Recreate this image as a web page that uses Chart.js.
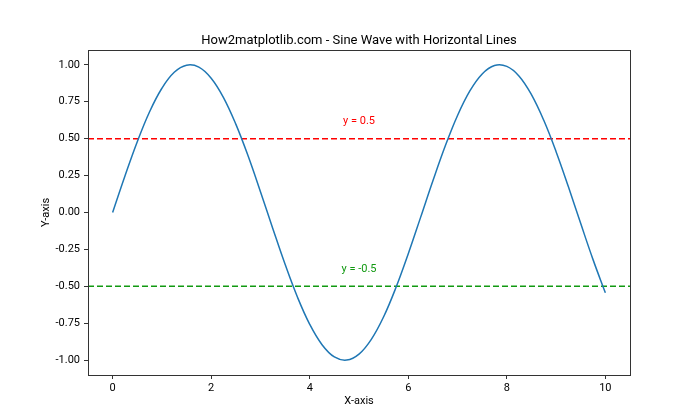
<!DOCTYPE html>
<html>
<head>
<meta charset="utf-8">
<script src="https://cdn.jsdelivr.net/npm/chart.js@4"></script>
<style>
  html, body { margin: 0; padding: 0; background: #fff; }
  #wrap { width: 700px; height: 420px; }
</style>
</head>
<body>
<div id="wrap"><canvas id="sineChart" width="700" height="420"></canvas></div>
<script>
// values
const xValues = [0, 0.25, 0.5, 0.75, 1, 1.25, 1.5, 1.75, 2, 2.25, 2.5, 2.75, 3, 3.25, 3.5, 3.75,
  4, 4.25, 4.5, 4.75, 5, 5.25, 5.5, 5.75, 6, 6.25, 6.5, 6.75, 7, 7.25, 7.5, 7.75,
  8, 8.25, 8.5, 8.75, 9, 9.25, 9.5, 9.75, 10];
const sineValues = [0, 0.247, 0.479, 0.682, 0.841, 0.949, 0.997, 0.984, 0.909, 0.778, 0.598, 0.382, 0.141,
  -0.108, -0.351, -0.572, -0.757, -0.895, -0.978, -0.999, -0.959, -0.859, -0.706, -0.508, -0.279,
  -0.033, 0.215, 0.45, 0.657, 0.823, 0.938, 0.995, 0.989, 0.923, 0.798, 0.624, 0.412, 0.174,
  -0.075, -0.319, -0.544];

const hLineValues = [0.5, -0.5];
const hLineColors = ["#ff0000", "#119911"];
const hLineLabels = ["y = 0.5", "y = -0.5"];
const labelX = [5, 5];
const labelY = [0.6, -0.4];

const xTicks = [0, 2, 4, 6, 8, 10];
const yTicks = [-1, -0.75, -0.5, -0.25, 0, 0.25, 0.5, 0.75, 1];

const chartTitle = "How2matplotlib.com - Sine Wave with Horizontal Lines";
const FONT = "Roboto, 'DejaVu Sans', sans-serif";
const xMin = -0.5, xMax = 10.5;

const datasets = [{
  label: "sin(x)",
  data: xValues.map((x, i) => ({ x: x, y: sineValues[i] })),
  borderColor: "#1f77b4",
  borderWidth: 1.5,
  pointRadius: 0,
  tension: 0.4,
  order: 0
}];

hLineValues.forEach((v, i) => {
  datasets.push({
    label: hLineLabels[i],
    data: [{ x: xMin, y: v }, { x: xMax, y: v }],
    borderColor: hLineColors[i],
    borderWidth: 1.5,
    borderDash: [6, 3],
    pointRadius: 0,
    order: 1
  });
});

// frame round the plot, title over the plot area and the two text notes
const framePlugin = {
  id: "frame",
  afterDraw(chart) {
    const { ctx, chartArea: a, scales } = chart;
    ctx.save();
    ctx.strokeStyle = "#333";
    ctx.lineWidth = 1;
    ctx.strokeRect(Math.round(a.left) + 0.5, Math.round(a.top) + 0.5,
      Math.round(a.right - a.left), Math.round(a.bottom - a.top));

    ctx.fillStyle = "#000";
    ctx.font = "13px " + FONT;
    ctx.textAlign = "center";
    ctx.textBaseline = "middle";
    ctx.fillText(chartTitle, (a.left + a.right) / 2, 41);

    ctx.font = "11px " + FONT;
    ctx.textBaseline = "alphabetic";
    hLineLabels.forEach((t, i) => {
      ctx.fillStyle = hLineColors[i];
      ctx.fillText(t, scales.x.getPixelForValue(labelX[i]), scales.y.getPixelForValue(labelY[i]));
    });
    ctx.restore();
  }
};

new Chart(document.getElementById("sineChart"), {
  type: "line",
  data: { datasets: datasets },
  options: {
    responsive: false,
    animation: false,
    layout: { padding: { top: 50, right: 70, bottom: 0, left: 0 } },
    plugins: {
      legend: { display: false },
      tooltip: { enabled: false },
      title: { display: false }
    },
    scales: {
      x: {
        type: "linear",
        min: xMin,
        max: xMax,
        afterBuildTicks: s => { s.ticks = xTicks.map(v => ({ value: v })); },
        afterFit: s => { s.height = 45; },
        grid: { drawOnChartArea: false, tickLength: 4, tickColor: "#333" },
        border: { color: "#333" },
        ticks: { color: "#000", padding: 3, maxRotation: 0, font: { family: FONT, size: 11 },
          callback: v => String(v) },
        title: { display: true, text: "X-axis", color: "#000",
          font: { family: FONT, size: 11 }, padding: { top: 0, bottom: 12 } }
      },
      y: {
        type: "linear",
        min: -1.1,
        max: 1.1,
        afterBuildTicks: s => { s.ticks = yTicks.map(v => ({ value: v })); },
        afterFit: s => { s.width = 88; },
        grid: { drawOnChartArea: false, tickLength: 4, tickColor: "#333" },
        border: { color: "#333" },
        ticks: { color: "#000", padding: 4, font: { family: FONT, size: 11 },
          callback: v => v.toFixed(2) },
        title: { display: true, text: "Y-axis", color: "#000",
          font: { family: FONT, size: 11 }, padding: { top: 40, bottom: 0 } }
      }
    }
  },
  plugins: [framePlugin]
});
</script>
</body>
</html>
